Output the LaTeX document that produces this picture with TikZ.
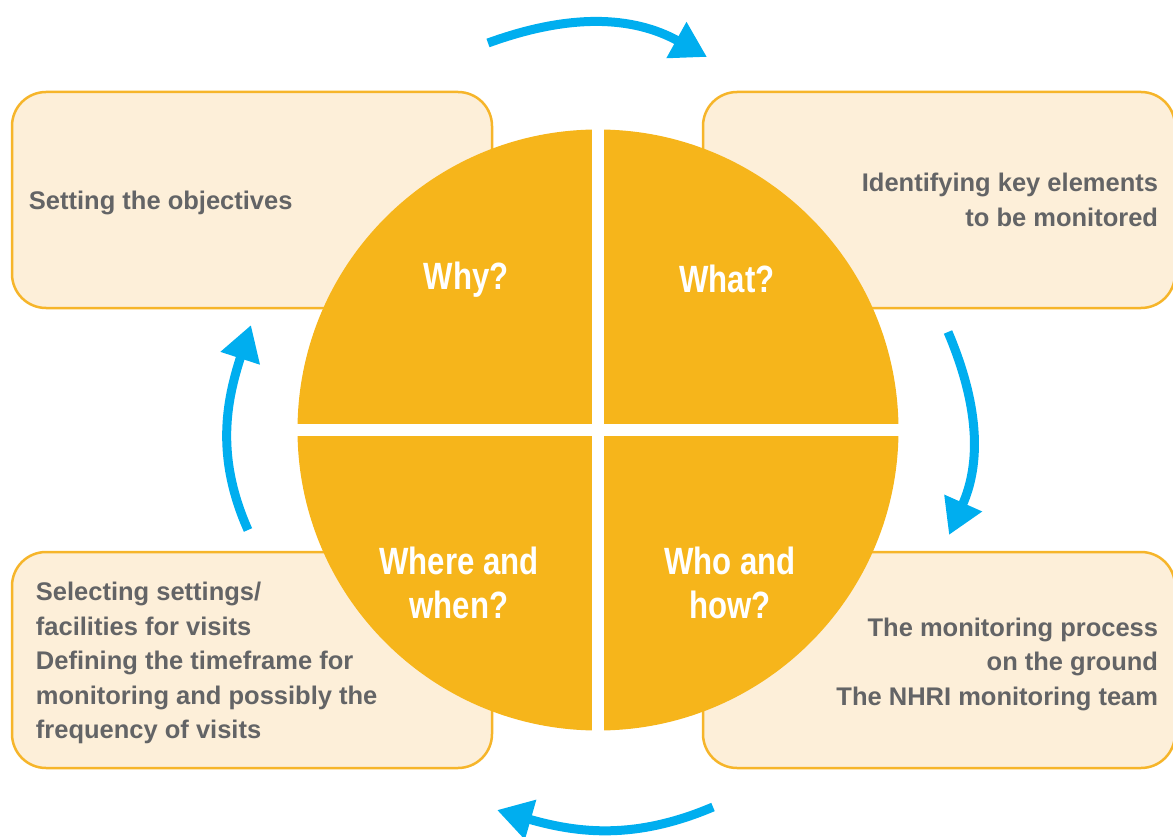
\documentclass[tikz,border=0pt]{standalone}
\usepackage{fontspec}
\setmainfont{Liberation Sans}
\newfontfamily\narrowfont[FakeStretch=0.82]{Liberation Sans}
\usepackage{xcolor}
\usepackage{tikz}
\usetikzlibrary{arrows.meta, positioning}

\definecolor{wheelgold}{HTML}{F6B51B}
\definecolor{boxline}{HTML}{F6B52A}
\definecolor{boxfill}{HTML}{FDEFD9}
\definecolor{cycleblue}{HTML}{00AEEF}
\definecolor{notegray}{HTML}{636466}

\begin{document}
\begin{tikzpicture}[
    x=1pt, y=1pt,
    stagebox/.style={rectangle, draw=boxline, line width=2.5pt, fill=boxfill, rounded corners=34pt, minimum width=480pt, minimum height=216pt, inner sep=0pt},
    note/.style={inner sep=0pt, text=notegray, font=\fontsize{25.5}{34.5}\selectfont\bfseries},
    disc/.style={circle, fill=wheelgold, minimum size=601pt, inner sep=0pt},
    question/.style={inner sep=0pt, text=white, align=center, font=\narrowfont\fontsize{38}{44}\selectfont\bfseries},
    cycle arrow/.style={draw=cycleblue, line width=9pt, -{Triangle[length=35pt, width=39pt]}}
  ]
    \useasboundingbox (0,0) rectangle (1173,-837);

    % Stage boxes
    \node[stagebox] (obj-box) at (252,-200) {};
    \node[stagebox, minimum width=472pt] (what-box) at (939,-200) {};
    \node[stagebox] (where-box) at (252,-660) {};
    \node[stagebox, minimum width=472pt] (how-box) at (939,-660) {};

    % Box texts
    \node[note, right=18pt of obj-box.west, yshift=-3pt] (obj-text) {Setting the objectives};
    \node[note, align=right, left=18pt of what-box.east] (what-text) {Identifying key elements\\to be monitored};
    \node[note, align=left, right=25pt of where-box.west, yshift=-3pt] (where-text) {Selecting settings/\\facilities for visits\\Defining the timeframe for\\monitoring and possibly the\\frequency of visits};
    \node[note, align=right, left=18pt of how-box.east, yshift=-4pt] (how-text) {The monitoring process\\on the ground\\The NHRI monitoring team};

    % Wheel, split in four
    \node[disc] (wheel) at (598,-430) {};
    \draw[white, line width=12pt] ([yshift=2pt]wheel.north) -- ([yshift=-2pt]wheel.south);
    \draw[white, line width=12pt] ([xshift=-2pt]wheel.west) -- ([xshift=2pt]wheel.east);

    % Questions
    \node[question] (why) at (466,-280) {Why?};
    \node[question] (what) at (727,-279) {What?};
    \node[question] (where) at (459,-583) {Where and\\when?};
    \node[question] (who) at (730,-583) {Who and\\how?};

    % Cycle arrows
    \coordinate (top-from) at (488,-43);
    \coordinate (top-to) at (707,-57);
    \coordinate (right-from) at (948,-332);
    \coordinate (right-to) at (949,-535);
    \coordinate (bottom-from) at (713,-807);
    \coordinate (bottom-to) at (497,-810);
    \coordinate (left-from) at (248,-530);
    \coordinate (left-to) at (251,-325);

    \draw[cycle arrow] (top-from) to[out=20, in=151] (top-to);
    \draw[cycle arrow] (right-from) to[out=-67, in=66] (right-to);
    \draw[cycle arrow] (bottom-from) to[out=-157, in=-16] (bottom-to);
    \draw[cycle arrow] (left-from) to[out=114, in=-108] (left-to);

  \end{tikzpicture}
\end{document}
